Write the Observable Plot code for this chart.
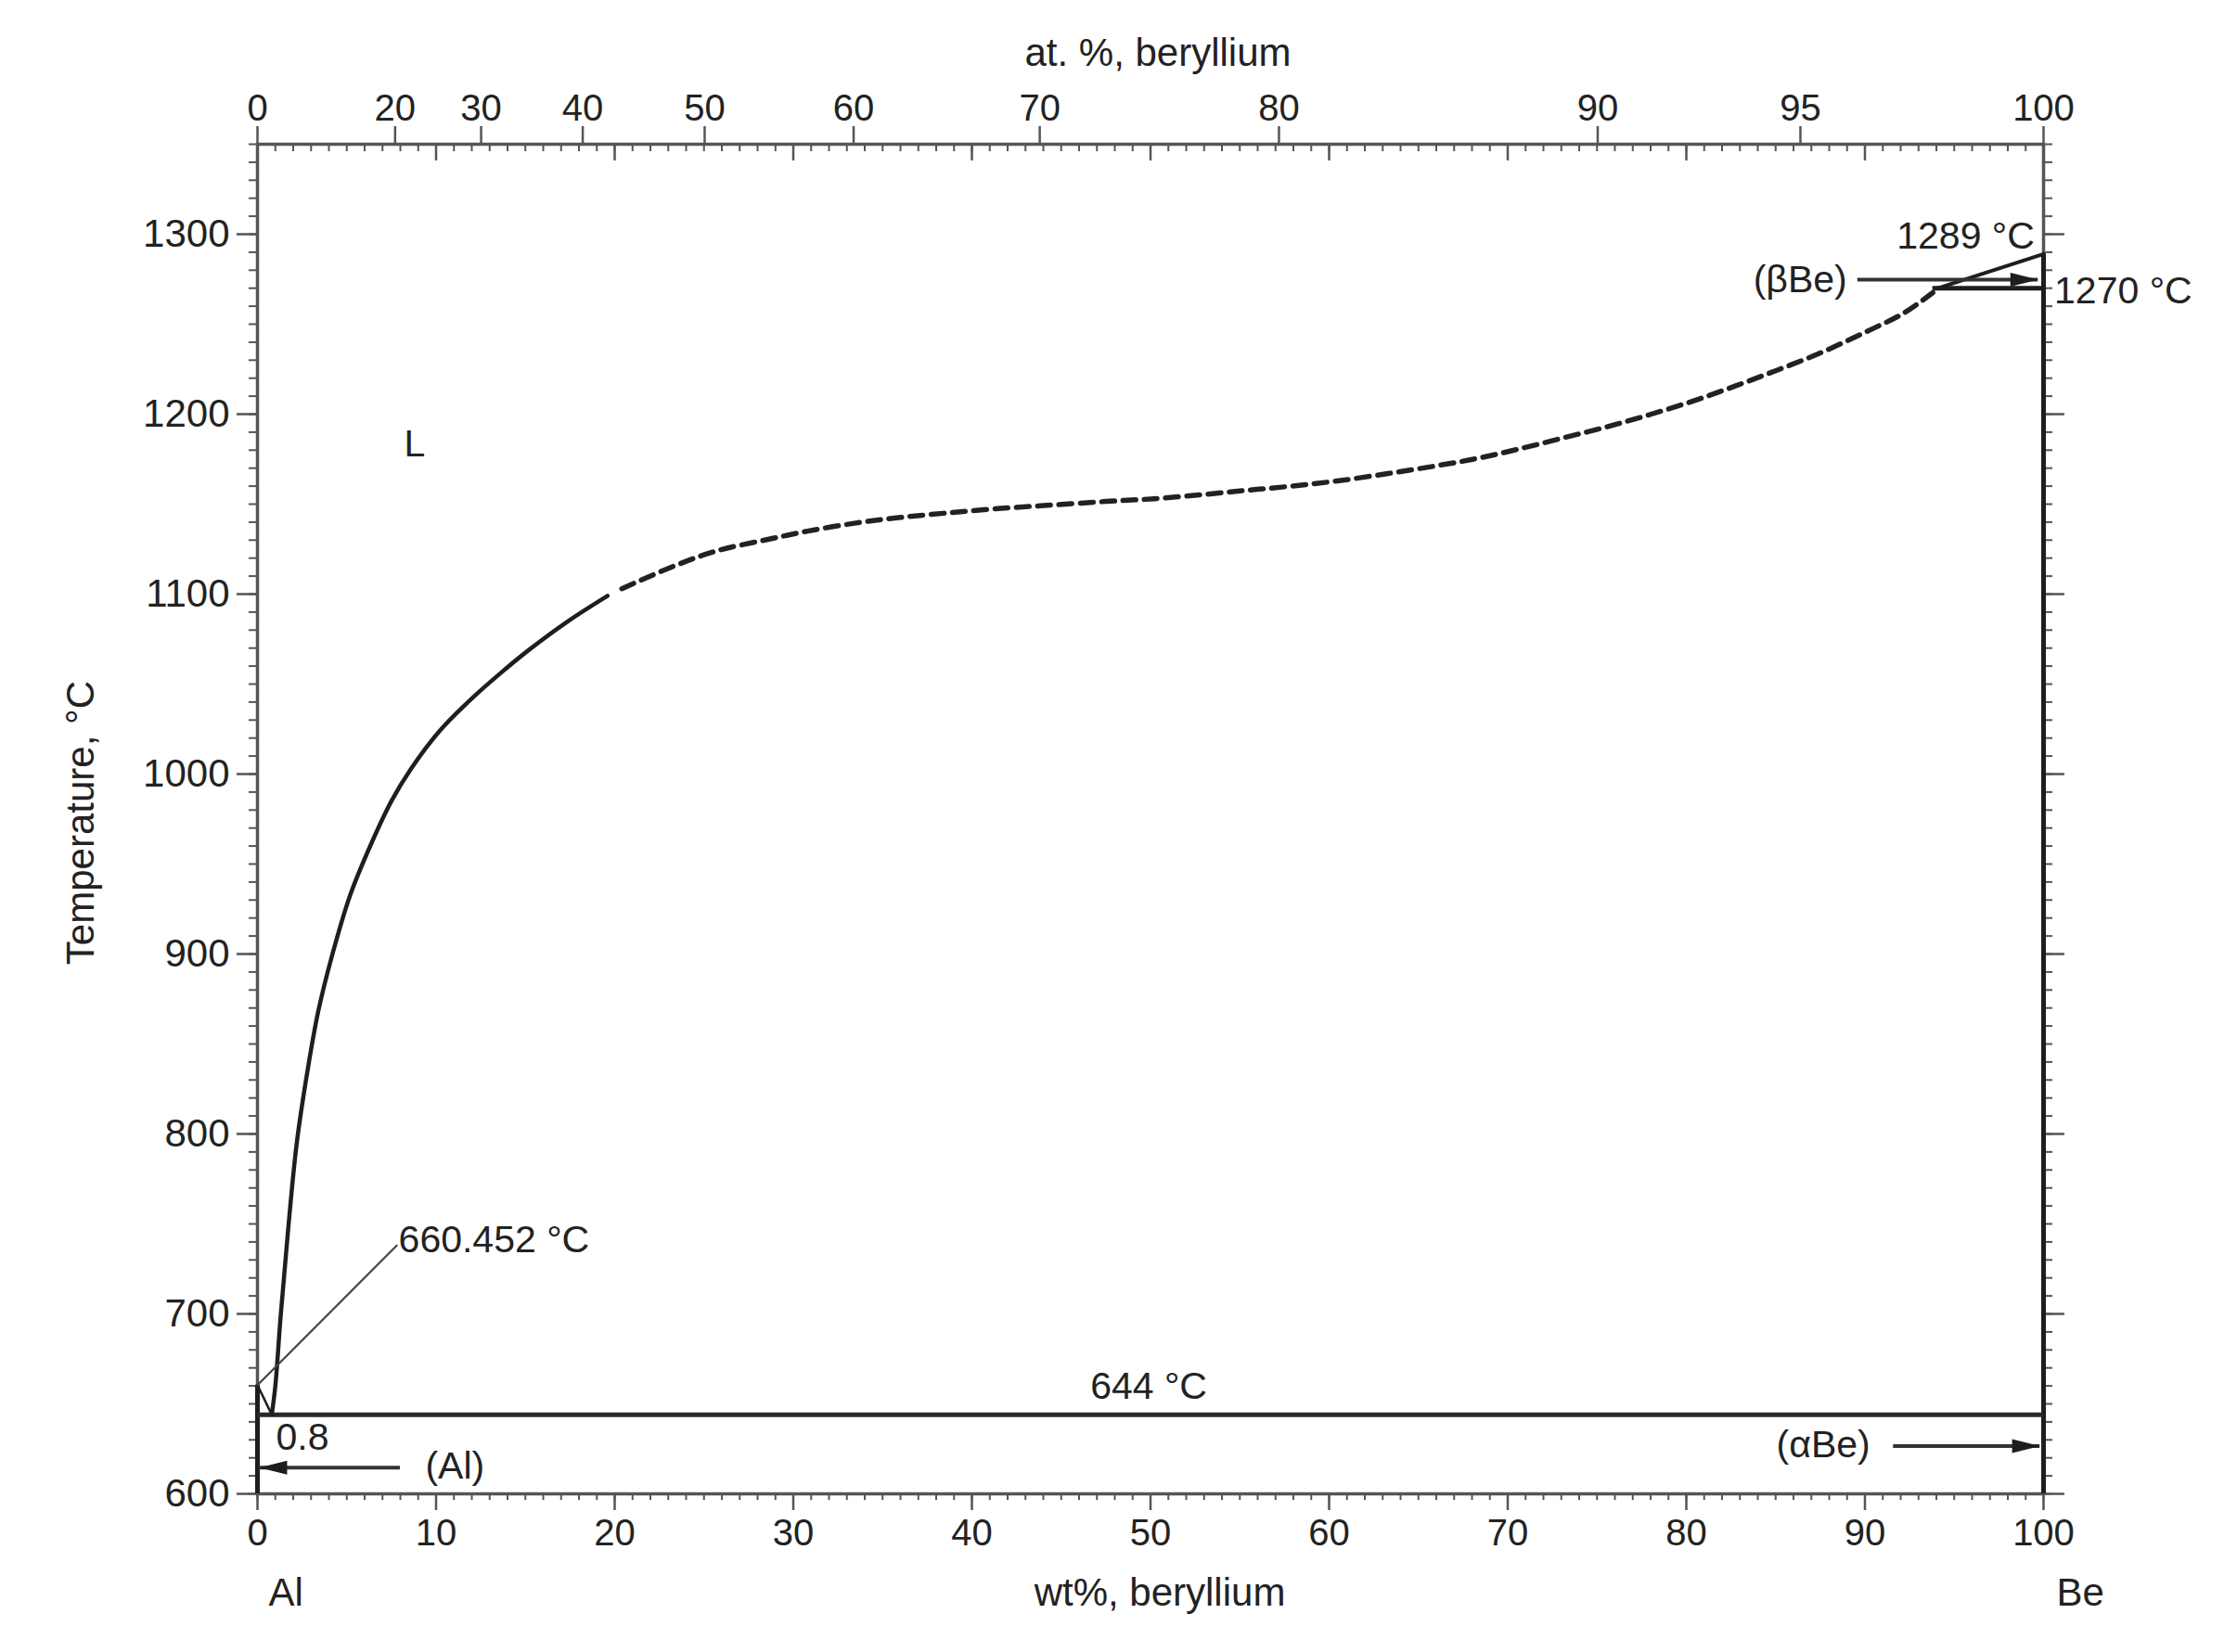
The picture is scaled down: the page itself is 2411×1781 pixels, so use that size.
<!DOCTYPE html>
<html>
<head>
<meta charset="utf-8">
<script src="https://cdn.jsdelivr.net/npm/d3@7"></script>
<script src="https://cdn.jsdelivr.net/npm/@observablehq/plot@0.6"></script>
<style>
  html, body { margin: 0; padding: 0; background: #fff; }
  #chart svg { display: block; }
</style>
</head>
<body>
<div id="chart"></div>
<script>
// ---------------- data ----------------
// Liquidus, solid part (wt% Be, °C), from the eutectic up to ~20 wt%
const liquidusWt = [0.8, 1.0, 1.3, 1.7, 2.2, 2.8, 3.4, 4.2, 5.2, 6.4, 7.5, 8.6, 10.2, 12.0, 13.6, 15.2, 17.4, 19.6];
const liquidusT  = [644, 660, 699, 745, 795, 835, 868, 900, 933, 962, 985, 1003, 1024, 1042, 1056, 1069, 1085, 1099];
// Liquidus, dashed (uncertain) part
const dashedWt = [20.4, 23.3, 25.7, 28.4, 30.8, 33.5, 35.9, 38.5, 41.2, 44.2, 47.5, 50.2, 52.9, 55.3, 57.7, 60.3, 63.3, 66.0, 68.4, 70.7, 73.1, 75.5, 77.9, 80.3, 82.7, 85.1, 87.5, 89.9, 92.2, 93.8];
const dashedT  = [1103, 1115.5, 1124, 1130, 1135, 1139.5, 1142.5, 1145, 1147.3, 1149.3, 1151.5, 1153, 1155.3, 1157.6, 1159.8, 1162.7, 1167, 1171.3, 1175.6, 1180.8, 1186.8, 1192.8, 1199.6, 1207, 1215.5, 1224.5, 1234, 1245, 1256.3, 1267.5];
// Al-side liquidus from the Al melting point to the eutectic
const alLiqWt = [0, 0.8];
const alLiqT  = [660.452, 644];
// Be-side liquidus above the 1270 °C transformation
const beLiqWt = [94.1, 100];
const beLiqT  = [1270, 1289];
// Invariant / boundary lines
const eutectic    = [{x1: 0, x2: 100, y: 644}];
const transformBe = [{x1: 93.8, x2: 100, y: 1270}];
const alSide      = [{x: 0, y1: 600, y2: 660.452}];
const beSide      = [{x: 100, y1: 600, y2: 1289}];
// Leader line for the Al melting point
const leaderWt = [0, 7.8];
const leaderT  = [660.452, 738];
// Arrows (from -> to, at constant temperature)
const arrows = [
  {x1: 8.0,  x2: 0.1,  y: 614.6},   // (Al)
  {x1: 91.6, x2: 99.8, y: 626.6},   // (αBe)
  {x1: 89.6, x2: 99.7, y: 1274.7}   // (βBe)
];
// Annotations (wt%, °C)
const notesStart  = [
  {text: "660.452 °C", x: 7.9,   y: 741},
  {text: "0.8",        x: 1.04,  y: 631},
  {text: "(Al)",       x: 9.4,   y: 615.5},
  {text: "1270 °C",    x: 100.6, y: 1268.3}
];
const notesMiddle = [
  {text: "L",      x: 8.8,  y: 1183.5},
  {text: "644 °C", x: 49.9, y: 659.5}
];
const notesEnd = [
  {text: "(αBe)",   x: 90.3, y: 627},
  {text: "(βBe)",   x: 89.0, y: 1274.5},
  {text: "1289 °C", x: 99.5, y: 1299}
];
// Axis ticks
const wtMajorTicks   = [0, 10, 20, 30, 40, 50, 60, 70, 80, 90, 100];
const wtMinorTicks   = d3.range(0, 101, 1);
const tempMajorTicks = [600, 700, 800, 900, 1000, 1100, 1200, 1300];
const tempMinorTicks = d3.range(600, 1351, 10);
const atTickLabels   = [0, 20, 30, 40, 50, 60, 70, 80, 90, 95, 100];
// at.% -> wt% conversion (atomic masses)
const M_BE = 9.012, M_AL = 26.982;
const atTickPositions = atTickLabels.map(a => 100 * a * M_BE / (a * M_BE + (100 - a) * M_AL));
const atLabelByPos = new Map(atTickPositions.map((p, i) => [p, String(atTickLabels[i])]));

const toPts = (xs, ys) => xs.map((x, i) => ({x, y: ys[i]}));

// filled arrow head, tip at the origin, pointing right
const arrowHead = {
  draw(ctx) { ctx.moveTo(0, 0); ctx.lineTo(-30, -7.5); ctx.lineTo(-30, 7.5); ctx.closePath(); }
};

const INK = "#1e1e1e";
const AXIS = "#555";

const chart = Plot.plot({
  width: 2411,
  height: 1781,
  marginLeft: 277,
  marginRight: 209,
  marginTop: 155,
  marginBottom: 171,
  x: {domain: [0, 100]},
  y: {domain: [600, 1350]},
  style: {fontFamily: "'Liberation Sans', Arial, Helvetica, sans-serif", fontSize: "40px", color: "#222", background: "#fff"},
  marks: [
    // ---- axes ----
    Plot.axisX(wtMinorTicks, {anchor: "bottom", tickSize: 7, stroke: AXIS, strokeWidth: 2, fill: "none", label: null}),
    Plot.axisX(wtMajorTicks, {anchor: "bottom", tickSize: 18, tickPadding: 9, stroke: AXIS, strokeWidth: 2.5, fill: "#222", fontSize: 40, label: null, tickFormat: d => String(d)}),
    Plot.axisX(wtMinorTicks, {anchor: "top", tickSize: 7, dy: 7, stroke: AXIS, strokeWidth: 2, fill: "none", label: null}),
    Plot.axisX(wtMajorTicks, {anchor: "top", tickSize: 17, dy: 17, stroke: AXIS, strokeWidth: 2.5, fill: "none", label: null}),
    Plot.axisX(atTickPositions, {anchor: "top", tickSize: 20, tickPadding: 6, stroke: AXIS, strokeWidth: 2.5, fill: "#222", fontSize: 40, label: null, tickFormat: d => atLabelByPos.get(d)}),
    Plot.axisY(tempMinorTicks, {anchor: "left", tickSize: 9, stroke: AXIS, strokeWidth: 2, fill: "none", label: null}),
    Plot.axisY(tempMajorTicks, {anchor: "left", tickSize: 22, tickPadding: 8, stroke: AXIS, strokeWidth: 2.5, fill: "#222", fontSize: 42, label: null, tickFormat: d => String(d)}),
    Plot.axisY(tempMinorTicks, {anchor: "right", tickSize: 9, stroke: AXIS, strokeWidth: 2, fill: "none", label: null}),
    Plot.axisY(tempMajorTicks, {anchor: "right", tickSize: 22, stroke: AXIS, strokeWidth: 2.5, fill: "none", label: null}),
    Plot.frame({stroke: AXIS, strokeWidth: 3.5}),

    // ---- phase boundaries ----
    Plot.ruleX(alSide, {x: "x", y1: "y1", y2: "y2", stroke: INK, strokeWidth: 5}),
    Plot.ruleX(beSide, {x: "x", y1: "y1", y2: "y2", stroke: INK, strokeWidth: 5}),
    Plot.ruleY(eutectic, {x1: "x1", x2: "x2", y: "y", stroke: "#2a2a2a", strokeWidth: 5}),
    Plot.ruleY(transformBe, {x1: "x1", x2: "x2", y: "y", stroke: INK, strokeWidth: 5}),
    Plot.line(toPts(alLiqWt, alLiqT), {x: "x", y: "y", stroke: INK, strokeWidth: 2.5}),
    Plot.line(toPts(liquidusWt, liquidusT), {x: "x", y: "y", stroke: INK, strokeWidth: 4.5, curve: "catmull-rom", strokeLinecap: "round"}),
    Plot.line(toPts(dashedWt, dashedT), {x: "x", y: "y", stroke: "#222", strokeWidth: 5.5, strokeDasharray: "14,9", curve: "catmull-rom"}),
    Plot.line(toPts(beLiqWt, beLiqT), {x: "x", y: "y", stroke: INK, strokeWidth: 4}),
    Plot.line(toPts(leaderWt, leaderT), {x: "x", y: "y", stroke: "#444", strokeWidth: 2.2}),

    // ---- arrows ----
    Plot.ruleY(arrows, {x1: "x1", x2: "x2", y: "y", stroke: "#333", strokeWidth: 4}),
    Plot.dot(arrows, {x: "x2", y: "y", symbol: arrowHead, rotate: d => (d.x2 < d.x1 ? 180 : 0), fill: INK, stroke: "none"}),

    // ---- annotations ----
    Plot.text(notesStart,  {x: "x", y: "y", text: "text", textAnchor: "start",  fontSize: 41, fill: "#222"}),
    Plot.text(notesMiddle, {x: "x", y: "y", text: "text", textAnchor: "middle", fontSize: 41, fill: "#222"}),
    Plot.text(notesEnd,    {x: "x", y: "y", text: "text", textAnchor: "end",    fontSize: 41, fill: "#222"}),

    // ---- axis titles ----
    Plot.text(["wt%, beryllium"], {text: d => d, frameAnchor: "bottom", textAnchor: "middle", dx: 10, dy: 120, fontSize: 42, fill: "#222"}),
    Plot.text(["Al"], {text: d => d, x: () => 0, frameAnchor: "bottom", dx: 12, dy: 120, textAnchor: "start", fontSize: 42, fill: "#222"}),
    Plot.text(["Be"], {text: d => d, x: () => 100, frameAnchor: "bottom", dx: 14, dy: 120, textAnchor: "start", fontSize: 42, fill: "#222"}),
    Plot.text(["at. %, beryllium"], {text: d => d, frameAnchor: "top", textAnchor: "middle", dx: 8, dy: -114, fontSize: 42, fill: "#222"}),
    Plot.text(["Temperature, °C"], {text: d => d, frameAnchor: "left", textAnchor: "middle", rotate: -90, dx: -190, dy: 4, fontSize: 42, fill: "#222"})
  ]
});

document.getElementById("chart").appendChild(chart);
</script>
</body>
</html>
